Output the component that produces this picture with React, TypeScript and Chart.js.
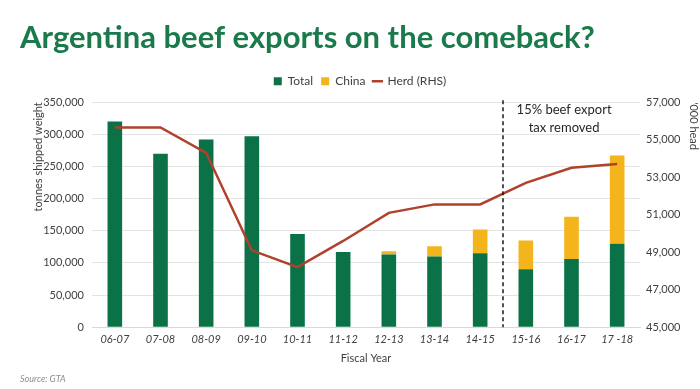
import React, { useEffect, useRef } from "react";
import { Chart, registerables } from "chart.js";

Chart.register(...registerables);

const TITLE = "Argentina beef exports on the comeback?";
const SOURCE = "Source: GTA";
const X_TITLE = "Fiscal Year";
const Y_TITLE = "tonnes shipped weight";
const Y1_TITLE = "'000 head";
const NOTE_LINES = ["15% beef export", "tax removed"];
const DIVIDER_AFTER_INDEX = 8; // line drawn between 14-15 and 15-16

const categories = ["06-07", "07-08", "08-09", "09-10", "10-11", "11-12", "12-13", "13-14", "14-15", "15-16", "16-17", "17 -18"];
const totalValues = [320000, 270000, 292000, 297000, 145000, 117000, 113000, 110000, 115000, 90000, 106000, 130000];
const chinaValues = [0, 0, 0, 0, 0, 0, 5000, 16000, 37000, 45000, 66000, 137000];
const herdValues = [55650, 55650, 54300, 49100, 48200, 49600, 51100, 51550, 51550, 52700, 53500, 53700];

const GREEN = "#0b7248";
const YELLOW = "#f4b41c";
const RED = "#b0412b";
const FONT = "Lato, 'Open Sans', sans-serif";

const legendSpacePlugin = {
  id: "legendSpace",
  beforeInit(chart: any) {
    const lg = chart.legend;
    if (lg && !lg.__patched) {
      const orig = lg.fit.bind(lg);
      lg.fit = function () {
        orig();
        this.height += 5;
      };
      lg.__patched = true;
    }
  },
};

const notePlugin = {
  id: "taxNote",
  afterDatasetsDraw(chart: any) {
    const { ctx } = chart;
    const x = chart.scales.x;
    const y = chart.scales.y;
    const xp = (x.getPixelForValue(DIVIDER_AFTER_INDEX) + x.getPixelForValue(DIVIDER_AFTER_INDEX + 1)) / 2;
    ctx.save();
    ctx.beginPath();
    ctx.setLineDash([4, 3]);
    ctx.strokeStyle = "#1a1a1a";
    ctx.lineWidth = 1.5;
    ctx.moveTo(xp, y.top - 2);
    ctx.lineTo(xp, y.bottom);
    ctx.stroke();
    ctx.setLineDash([]);
    const cx = (xp + x.getPixelForValue(categories.length - 1)) / 2 + 4;
    ctx.fillStyle = "#262626";
    ctx.font = "13px " + FONT;
    ctx.textAlign = "center";
    ctx.textBaseline = "middle";
    NOTE_LINES.forEach((t, i) => ctx.fillText(t, cx, y.top + 8 + i * 18));
    ctx.restore();
  },
};

export default function App() {
  const ref = useRef<HTMLCanvasElement>(null);
  useEffect(() => {
    const chart = new Chart(ref.current!, {
      type: "bar",
      data: {
        labels: categories,
        datasets: [
          { type: "bar", label: "Total", data: totalValues, backgroundColor: GREEN, stack: "s", order: 1, yAxisID: "y", barPercentage: 0.32, categoryPercentage: 1 },
          { type: "bar", label: "China", data: chinaValues, backgroundColor: YELLOW, stack: "s", order: 1, yAxisID: "y", barPercentage: 0.32, categoryPercentage: 1 },
          { type: "line", label: "Herd (RHS)", data: herdValues, borderColor: RED, backgroundColor: RED, borderWidth: 2.5, pointRadius: 0, yAxisID: "y1", order: 0, tension: 0 } as any,
        ],
      },
      options: {
        animation: false,
        responsive: true,
        maintainAspectRatio: false,
        layout: { padding: { left: 20, right: 0, top: 0, bottom: 5 } },
        plugins: {
          title: {
            display: true,
            text: TITLE,
            align: "start",
            color: "#1b7a4b",
            font: { family: FONT, size: 31, weight: "bold" },
            padding: { top: 19, bottom: 11 },
          },
          subtitle: {
            display: true,
            text: SOURCE,
            position: "bottom",
            align: "start",
            color: "#8c8c8c",
            font: { family: FONT, size: 9, style: "italic" },
            padding: { top: 4, bottom: 0 },
          },
          legend: {
            display: true,
            position: "top",
            labels: {
              usePointStyle: true,
              boxWidth: 8,
              boxHeight: 8,
              padding: 8,
              color: "#404040",
              font: { family: FONT, size: 12 },
              generateLabels(chart: any) {
                return chart.data.datasets.map((ds: any, i: number) => ({
                  text: ds.label,
                  fillStyle: ds.type === "line" ? ds.borderColor : ds.backgroundColor,
                  strokeStyle: ds.type === "line" ? ds.borderColor : ds.backgroundColor,
                  lineWidth: ds.type === "line" ? 2.5 : 0,
                  pointStyle: ds.type === "line" ? "line" : "rect",
                  hidden: false,
                  datasetIndex: i,
                  fontColor: "#404040",
                }));
              },
            },
          },
          tooltip: { enabled: false },
        },
        scales: {
          x: {
            stacked: true,
            afterFit: (s: any) => { s.height = 42; },
            grid: { display: false, drawTicks: false },
            border: { display: true, color: "#d9d9d9" },
            ticks: { color: "#404040", font: { family: FONT, size: 11, style: "italic" }, padding: 6, maxRotation: 0 },
            title: { display: true, text: X_TITLE, color: "#404040", font: { family: FONT, size: 11 }, padding: { top: 2, bottom: 4 } },
          },
          y: {
            stacked: true,
            position: "left",
            min: 0,
            max: 350000,
            afterFit: (s: any) => { s.width = 72; },
            grid: { color: "#e3e3e3", drawTicks: false },
            border: { display: false },
            ticks: {
              stepSize: 50000,
              padding: 8,
              color: "#404040",
              font: { family: FONT, size: 11 },
              callback: (v: any) => Number(v).toLocaleString("en-US"),
            },
            title: { display: true, text: Y_TITLE, align: "end", color: "#404040", font: { family: FONT, size: 11 }, padding: { top: 12, bottom: 4 } },
          },
          y1: {
            position: "right",
            min: 45000,
            max: 57000,
            afterFit: (s: any) => { s.width = 60; },
            grid: { display: false, drawTicks: false },
            border: { display: false },
            ticks: {
              stepSize: 2000,
              padding: 6,
              color: "#404040",
              font: { family: FONT, size: 11 },
              callback: (v: any) => Number(v).toLocaleString("en-US"),
            },
            title: { display: true, text: Y1_TITLE, align: "end", color: "#404040", font: { family: FONT, size: 11 }, padding: { top: 0, bottom: 2 } },
          },
        },
      },
      plugins: [legendSpacePlugin, notePlugin],
    });
    return () => chart.destroy();
  }, []);
  return (
    <div style={{ position: "absolute", left: 0, top: 0, width: 700, height: 389, background: "#fff" }}>
      <canvas ref={ref} />
    </div>
  );
}
